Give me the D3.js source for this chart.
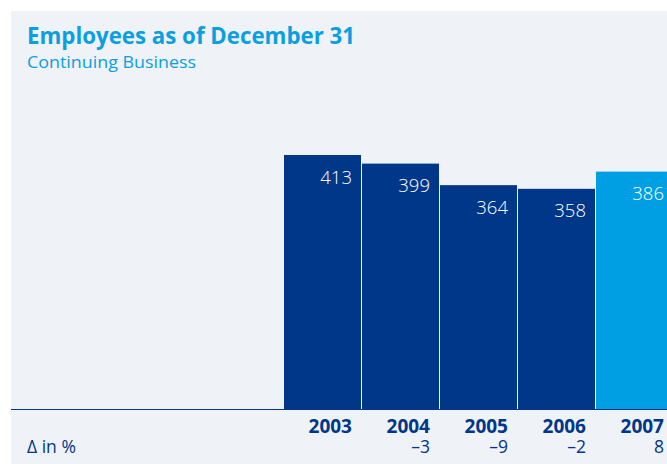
<!DOCTYPE html>
<html>
<head>
<meta charset="utf-8">
<script src="https://cdn.jsdelivr.net/npm/d3@7"></script>
<style>
  html, body { margin: 0; padding: 0; background: #ffffff; }
  svg { display: block; font-family: "Open Sans", "Noto Sans", sans-serif; }
</style>
</head>
<body>
<svg id="chart" width="667" height="464"></svg>
<script>
// Employees at year end, continuing business (thousands)
const years = ["2003", "2004", "2005", "2006", "2007"];
const employees = [413, 399, 364, 358, 386];
const changePct = [null, -3, -9, -2, 8];
const highlightYear = "2007";

const W = 667, H = 464;
const svg = d3.select("#chart");

const colors = {
  panel: "#eff2f6",
  bar: "#003789",
  barHighlight: "#009fe3",
  title: "#0a9fe0",
  axis: "#003789",
  label: "#003789"
};

// background panel
svg.append("rect")
  .attr("x", 11).attr("y", 11)
  .attr("width", W - 11).attr("height", H - 11)
  .attr("fill", colors.panel);

// title block
svg.append("text")
  .attr("x", 27).attr("y", 44)
  .attr("fill", colors.title)
  .attr("font-size", 22.5).attr("font-weight", 700)
  .attr("textLength", 328).attr("lengthAdjust", "spacingAndGlyphs")
  .text("Employees as of December 31");
svg.append("text")
  .attr("x", 27).attr("y", 68)
  .attr("fill", colors.title)
  .attr("font-size", 16.5).attr("font-weight", 400)
  .attr("textLength", 169).attr("lengthAdjust", "spacingAndGlyphs")
  .text("Continuing Business");

const baseY = 409;
const x = d3.scaleBand().domain(years).range([284, 674]).paddingInner(0);
const y = d3.scaleLinear().domain([0, 500]).range([baseY, 101.5]);

const data = years.map((yr, i) => ({ year: yr, value: employees[i], delta: changePct[i] }));

const barW = x.bandwidth() - 1;

svg.append("g").selectAll("rect")
  .data(data)
  .join("rect")
  .attr("x", d => x(d.year))
  .attr("y", d => y(d.value))
  .attr("width", barW)
  .attr("height", d => y(0) - y(d.value))
  .attr("fill", d => d.year === highlightYear ? colors.barHighlight : colors.bar);

// value labels inside bars
svg.append("g").selectAll("text")
  .data(data)
  .join("text")
  .attr("x", d => x(d.year) + barW - 9)
  .attr("y", d => y(d.value) + 28.5)
  .attr("text-anchor", "end")
  .attr("fill", "#ffffff")
  .attr("font-size", 18.5).attr("font-weight", 300)
  .text(d => d.value);

// baseline
svg.append("line")
  .attr("x1", 11).attr("x2", W)
  .attr("y1", baseY + 0.5).attr("y2", baseY + 0.5)
  .attr("stroke", colors.axis).attr("stroke-width", 1.2);

// year axis labels
const xAxis = d3.axisBottom(x).tickSize(0).tickPadding(0);
const axisG = svg.append("g").attr("transform", `translate(0,${baseY})`).call(xAxis);
axisG.select(".domain").remove();
axisG.selectAll(".tick text")
  .attr("x", x.bandwidth() / 2 - 10)
  .attr("y", 23.5)
  .attr("dy", 0)
  .attr("text-anchor", "end")
  .attr("fill", colors.label)
  .attr("font-size", 19).attr("font-weight", 700)
  .attr("font-family", "'Open Sans', 'Noto Sans', sans-serif");

// change row
svg.append("text")
  .attr("x", 27).attr("y", 453)
  .attr("fill", colors.label)
  .attr("font-size", 17.5)
  .text("\u0394 in %");

svg.append("g").selectAll("text")
  .data(data.filter(d => d.delta !== null))
  .join("text")
  .attr("x", d => x(d.year) + barW - 9)
  .attr("y", 453)
  .attr("text-anchor", "end")
  .attr("fill", colors.label)
  .attr("font-size", 17.5)
  .text(d => d.delta < 0 ? "\u2013" + Math.abs(d.delta) : String(d.delta));
</script>
</body>
</html>
